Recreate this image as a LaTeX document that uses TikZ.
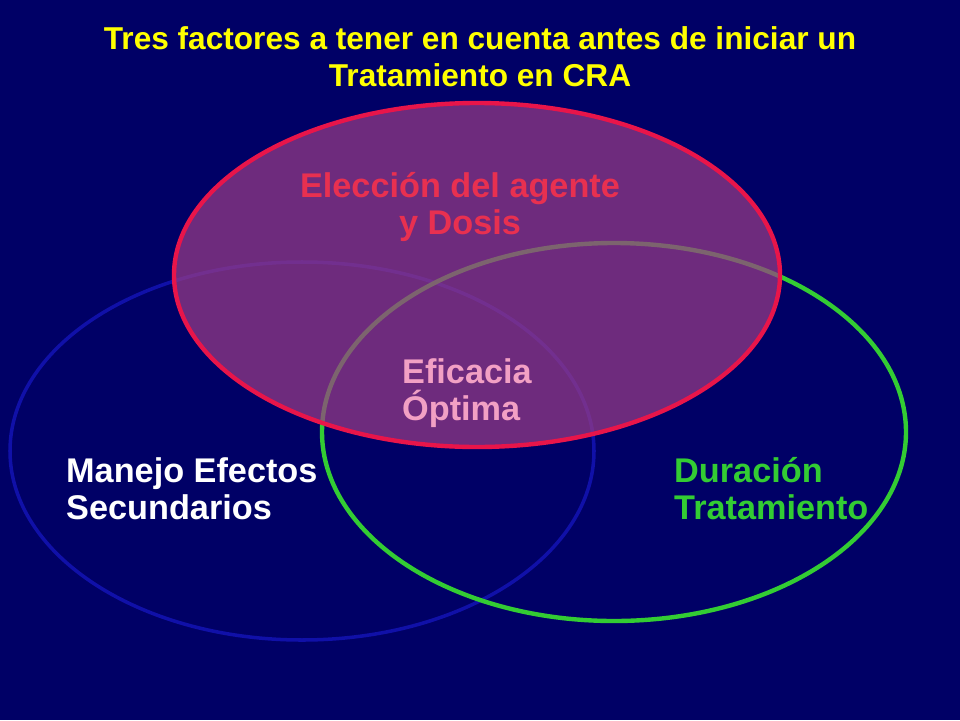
\documentclass[tikz,border=0pt]{standalone}
\usepackage{fontspec}
\setmainfont{Liberation Sans}
\usetikzlibrary{positioning}
\definecolor{navy}{HTML}{000066}
\definecolor{ttl}{HTML}{FFFF00}
\definecolor{rojo}{HTML}{E8154A}
\definecolor{letra}{HTML}{E83050}
\definecolor{verde}{HTML}{33CC33}
\definecolor{azul}{HTML}{1010A8}
\definecolor{rosa}{HTML}{F2A0C4}
\definecolor{morado}{HTML}{993C86}
\tikzset{lbl/.style={font=\fontsize{19.5}{21}\selectfont\bfseries,align=left,anchor=west}}
\begin{document}
\begin{tikzpicture}[x=0.02cm,y=-0.02cm]

\fill [navy] (0,0) rectangle (960,720);
\useasboundingbox (0,0) rectangle (960,720);

\node [font=\fontsize{18}{21}\selectfont\bfseries,text=ttl,align=center] (title) at (480,57) {Tres factores a tener en cuenta antes de iniciar un\\Tratamiento en CRA};

\draw [azul,line width=2pt] (302,451) ellipse [x radius=292,y radius=189];
\draw [verde,line width=2.5pt] (614,432) ellipse [x radius=292,y radius=189];
\draw [rojo,line width=2.5pt,fill=morado,fill opacity=0.72] (477,275) ellipse [x radius=303,y radius=172];

\node [lbl,align=center,anchor=center,text=letra] (agente) at (460,207) {Elección del agente\\y Dosis};
\node [lbl,text=rosa] (eficacia) at (396,393) {Eficacia\\Óptima};
\node [lbl,text=white] (manejo) at (60,489) {Manejo Efectos\\Secundarios};
\node [lbl,text=verde] (duracion) at (668,489) {Duración\\Tratamiento};

\end{tikzpicture}
\end{document}
